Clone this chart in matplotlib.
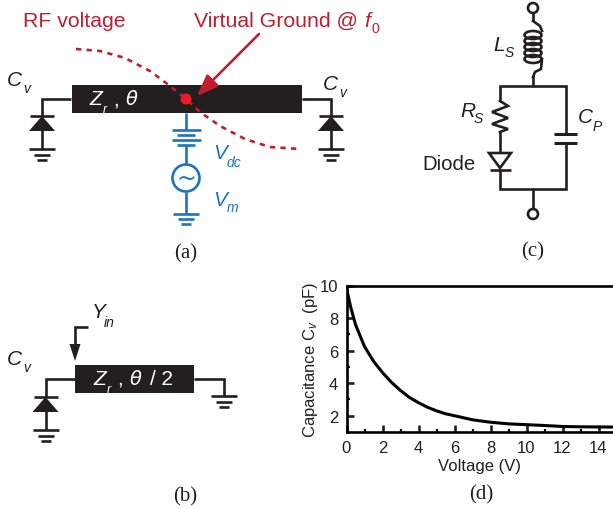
import matplotlib
matplotlib.use("Agg")
import matplotlib.pyplot as plt
from matplotlib.patches import Rectangle, Circle, Ellipse, Polygon

# Fig (d) curve
voltage = [0, 0.25, 0.5, 1, 1.5, 2, 2.5, 3, 3.5, 4, 4.5, 5, 5.5, 6, 7, 8, 9, 10, 11, 12, 13, 14, 15]
capacitance = [9.8, 8.6, 7.6, 6.25, 5.35, 4.65, 4.05, 3.55, 3.12, 2.8, 2.52, 2.3, 2.12, 2.0, 1.75, 1.6, 1.5, 1.45, 1.4, 1.34, 1.32, 1.31, 1.3]
x_ticks = [0, 2, 4, 6, 8, 10, 12, 14]
y_ticks = [2, 4, 6, 8, 10]

# RF voltage standing wave, in picture pixels
rf_x = [76, 100, 125, 150, 170, 186, 200, 220, 245, 270, 300]
rf_y = [50, 52, 59, 72, 87, 100, 113, 127, 140, 148, 150]

BLACK = "#231f20"
RED = "#be1e2d"
BLUE = "#1c75bc"
SANS = "Liberation Sans"
SERIF = "Liberation Serif"
LW = 1.9

plt.rcParams["font.family"] = SANS
plt.rcParams["mathtext.fontset"] = "custom"
plt.rcParams["mathtext.it"] = "Liberation Sans:italic"
plt.rcParams["mathtext.rm"] = "Liberation Sans"

fig = plt.figure(figsize=(6.13, 5.10), dpi=100)
ax = fig.add_axes([0, 0, 1, 1])
ax.set_xlim(0, 613)
ax.set_ylim(510, 0)
ax.axis("off")


def wire(xs, ys, color=BLACK, lw=LW):
    ax.plot(xs, ys, color=color, lw=lw, solid_capstyle="butt", solid_joinstyle="miter")


def ground(x, y, color=BLACK):
    wire([x - 13, x + 13], [y, y], color)
    wire([x - 8, x + 8], [y + 5.5, y + 5.5], color)
    wire([x - 5, x + 5], [y + 11, y + 11], color)


def filled_diode(x, y):
    # cathode bar on top, wire down to a ground
    wire([x - 12, x + 12], [y, y])
    ax.add_patch(Polygon([[x, y], [x - 13, y + 15], [x + 13, y + 15]], fc=BLACK, ec="none"))
    wire([x, x], [y + 14, y + 33])
    ground(x, y + 33)


def label(x, y, main, sub, color=BLACK, size=15, subsize=10, dx=16, dy=7):
    ax.text(x, y, main, color=color, fontsize=size, style="italic", ha="left", va="baseline")
    ax.text(x + dx, y + dy, sub, color=color, fontsize=subsize, style="italic", ha="left", va="baseline")


def line_name(x, y, rest, rest_dx):
    # white Z_r , theta text on the black line
    ax.text(x, y, "Z", color="white", fontsize=15, style="italic", va="baseline", zorder=7)
    ax.text(x + 14, y + 8, "r", color="white", fontsize=9, style="italic", va="baseline", zorder=7)
    ax.text(x + 24, y, ",", color="white", fontsize=15, va="baseline", zorder=7)
    ax.text(x + 37, y, "θ", color="white", fontsize=14, style="italic", va="baseline",
            family="DejaVu Sans", zorder=7)
    if rest:
        ax.text(x + rest_dx, y, rest, color="white", fontsize=15, va="baseline", zorder=7)


def serif_label(x, y, s):
    ax.text(x, y, s, family=SERIF, fontsize=15, color=BLACK, ha="center", va="center")


# ---- (a) ----
ax.plot(rf_x, rf_y, color=RED, lw=LW, dashes=(2.0, 2.0), zorder=5)
ax.add_patch(Rectangle((71.5, 86), 230, 28, fc=BLACK, ec="none", zorder=3))
wire([71, 42, 42], [99.5, 99.5, 117])
filled_diode(42, 117)
wire([302, 331, 331], [99.5, 99.5, 117])
filled_diode(331, 117)

# blue bias branch
wire([186, 186], [114, 131], BLUE)
wire([172, 201], [131, 131], BLUE)
wire([177, 195], [136, 136], BLUE)
wire([172, 201], [141, 141], BLUE)
wire([177, 195], [146, 146], BLUE)
wire([186, 186], [146, 165], BLUE)
ax.add_patch(Circle((186, 179), 13.5, fc="none", ec=BLUE, lw=LW))
ax.text(186, 178.5, "~", color=BLUE, fontsize=17, ha="center", va="center", family="DejaVu Sans")
wire([186, 186], [193, 215], BLUE)
wire([173, 199], [215, 215], BLUE)
wire([178, 194], [220, 220], BLUE)
wire([181, 191], [225, 225], BLUE)

ax.add_patch(Circle((186, 100), 5.5, fc="#ed1c24", ec="none", zorder=6))
ax.annotate("", xy=(197, 97), xytext=(259, 35), zorder=6,
            arrowprops=dict(arrowstyle="-|>,head_length=1.3,head_width=0.5", color=RED, lw=LW, shrinkA=0, shrinkB=0))

ax.text(23, 27, "RF voltage", color=RED, fontsize=15.3, va="baseline")
ax.text(194, 27, "Virtual Ground @", color=RED, fontsize=15.3, va="baseline")
ax.text(364, 27, "f", color=RED, fontsize=15.3, style="italic", va="baseline")
ax.text(371, 33, "0", color=RED, fontsize=10, va="baseline")

label(7, 86, "C", "v")
label(323, 90, "C", "v")
line_name(89, 105, "", 0)
label(213, 159, "V", "dc", BLUE, dx=14, dy=8)
label(213, 206, "V", "m", BLUE, dx=14, dy=6)
serif_label(186, 254, "(a)")

# ---- (b) ----
ax.add_patch(Rectangle((75, 366), 119, 28, fc=BLACK, ec="none", zorder=3))
wire([75, 45.5, 45.5], [379.5, 379.5, 398])
filled_diode(45.5, 398)
wire([194, 224, 224], [379.5, 379.5, 397])
ground(224, 397)
wire([88, 75, 75], [328, 328, 350])
ax.add_patch(Polygon([[75, 362], [69.5, 345], [80.5, 345]], fc=BLACK, ec="none"))
label(7, 365, "C", "v")
label(92, 318, "Y", "in", dx=12, dy=9)
line_name(93, 385, "/ 2", 57)
serif_label(185, 497, "(b)")

# ---- (c) ----
ax.add_patch(Circle((533, 9), 5, fc="white", ec=BLACK, lw=LW))
wire([533, 533], [14, 22])
ax.plot([533, 540, 542], [22, 27, 32], color=BLACK, lw=LW)
for yc in [36, 42, 48, 54, 60]:
    ax.add_patch(Ellipse((533, yc), 17, 8, fc="none", ec=BLACK, lw=LW))
ax.plot([542, 541, 535, 533], [60, 70, 73, 78], color=BLACK, lw=LW)
wire([533, 533], [76, 87])
wire([500, 500, 566, 566], [102, 87, 87, 135])
wire([566, 566, 500, 500], [144, 190, 190, 171])
wire([533, 533], [190, 210])
ax.add_patch(Circle((533, 215), 5, fc="white", ec=BLACK, lw=LW))
ax.plot([500, 508, 492, 508, 492, 508, 500], [102, 107, 113, 119, 125, 130, 133],
        color=BLACK, lw=LW, solid_joinstyle="miter")
wire([500, 500], [133, 154])
ax.add_patch(Polygon([[489, 154], [511, 154], [500, 169]], fc="white", ec=BLACK, lw=LW))
wire([490, 511], [170.5, 170.5])
wire([554, 577], [135, 135], lw=2.2)
wire([554, 577], [144, 144], lw=2.2)
label(493, 51, "L", "S", dx=12, dy=6)
label(460, 117, "R", "S", dx=14, dy=6)
label(578, 123, "C", "P", dx=15, dy=8)
ax.text(422, 170, "Diode", color=BLACK, fontsize=14.7, va="baseline")
serif_label(533, 252, "(c)")

# ---- (d) ----
left, right = 346.5, 613
top, bottom = 286.5, 433
axd = fig.add_axes([left / 613, 1 - bottom / 510, (right - left) / 613, (bottom - top) / 510])
axd.patch.set_alpha(0)
axd.plot(voltage, capacitance, color="black", lw=2.2)
axd.set_xlim(0, (right - left) / 18.0)
axd.set_ylim(1, 10)
axd.spines["right"].set_visible(False)
for side in ["top", "left", "bottom"]:
    axd.spines[side].set_linewidth(1.9)
    axd.spines[side].set_color("black")
axd.set_xticks(x_ticks)
axd.set_yticks(y_ticks)
axd.set_xticks(range(1, 15, 2), minor=True)
axd.set_yticks(range(3, 10, 2), minor=True)
axd.tick_params(which="major", direction="in", length=5, width=1.9, labelsize=12, pad=6, colors=BLACK)
axd.tick_params(which="minor", direction="in", length=2.5, width=1.6)
axd.set_xlabel("Voltage (V)", fontsize=12, color=BLACK, labelpad=2)
axd.text(-0.135, 0.5, "Capacitance C$_v$  (pF)", transform=axd.transAxes, rotation=90,
         ha="center", va="center", fontsize=12, color=BLACK)
serif_label(481, 495, "(d)")

fig.savefig("out.png", dpi=100)
